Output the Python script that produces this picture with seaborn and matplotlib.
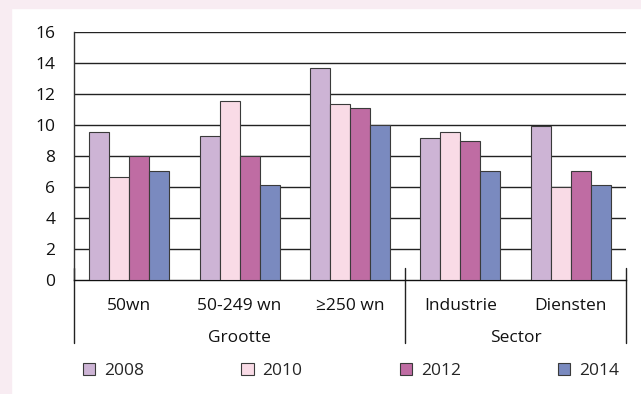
import pandas as pd
import numpy as np

import matplotlib
matplotlib.use('Agg')
import matplotlib.pyplot as plt
import matplotlib.transforms as mtransforms
from matplotlib.patches import Rectangle
import seaborn as sns

categories = ['50wn', '50-249 wn', '≥250 wn', 'Industrie', 'Diensten']
groups = ['Grootte', 'Sector']
group_centers = [1.0, 3.5]
years = ['2008', '2010', '2012', '2014']
v2008 = [9.5, 9.25, 13.65, 9.15, 9.9]
v2010 = [6.6, 11.5, 11.35, 9.5, 6.0]
v2012 = [8.0, 8.0, 11.05, 8.95, 7.0]
v2014 = [7.0, 6.1, 10.0, 7.0, 6.1]
colors = ['#CDB4D5', '#F9DBE6', '#BF6CA3', '#7A8ABF']

rows = []
for year, vals in zip(years, [v2008, v2010, v2012, v2014]):
    for cat, v in zip(categories, vals):
        rows.append({'cat': cat, 'year': year, 'value': v})
df = pd.DataFrame(rows)

sns.set_style('white')
plt.rcParams['font.family'] = ['Open Sans', 'DejaVu Sans']
FS = 12.5

fig = plt.figure(figsize=(6.41, 3.94), dpi=100)
fig.patch.set_facecolor('white')
# pink frame strip on left and top
fig.patches.append(Rectangle((0, 0), 11 / 641, 1, transform=fig.transFigure, color='#F8ECF2', zorder=0))
fig.patches.append(Rectangle((0, 1 - 8 / 394), 1, 8 / 394, transform=fig.transFigure, color='#F8ECF2', zorder=0))

ax = fig.add_axes([74 / 641, 114.5 / 394, 552 / 641, 247.8 / 394])
sns.barplot(data=df, x='cat', y='value', hue='year', order=categories, hue_order=years,
            palette=colors, width=0.725, edgecolor='#3a3a3a', linewidth=0.8,
            saturation=1, ax=ax, legend=True, zorder=3)

ax.set_ylim(0, 16)
ax.set_xlim(-0.5, 4.5)
ax.set_yticks(np.arange(0, 17, 2))
for y in np.arange(2, 17, 2):
    ax.axhline(y, color='#222222', linewidth=1.0, zorder=1)
ax.tick_params(axis='y', length=0, pad=13.5, labelsize=FS)
for lab in ax.get_yticklabels():
    lab.set_color('#111111')

ax.set_xlabel('')
ax.set_ylabel('')
ax.set_xticks([0.5, 1.5, 3.5])
ax.set_xticklabels([])
ax.tick_params(axis='x', direction='in', length=11, width=1, color='#333333')

for s in ['top', 'right']:
    ax.spines[s].set_visible(False)
ax.spines['left'].set_color('#333333')
ax.spines['bottom'].set_color('#111111')
ax.spines['left'].set_linewidth(1)
ax.spines['bottom'].set_linewidth(1)

trans = mtransforms.blended_transform_factory(ax.transData, ax.transAxes)
for x in [-0.5, 2.5, 4.5]:
    ax.plot([x, x], [0.046, -0.256], transform=trans, color='#222222', linewidth=1, clip_on=False)
for i, c in enumerate(categories):
    ax.text(i, -0.107, c, transform=trans, ha='center', va='center', fontsize=FS, color='#111111')
for g, gx in zip(groups, group_centers):
    ax.text(gx, -0.236, g, transform=trans, ha='center', va='center', fontsize=FS, color='#111111')

handles, labels = ax.get_legend_handles_labels()
ax.get_legend().remove()
fig.legend(handles, labels, loc='center', ncol=4, mode='expand',
           bbox_to_anchor=(76 / 641, 23 / 394 - 0.03, 550 / 641, 0.06),
           frameon=False, fontsize=FS, handlelength=0.7, handleheight=0.7,
           handletextpad=0.5, borderaxespad=0)

fig.savefig('out.png', dpi=100)
